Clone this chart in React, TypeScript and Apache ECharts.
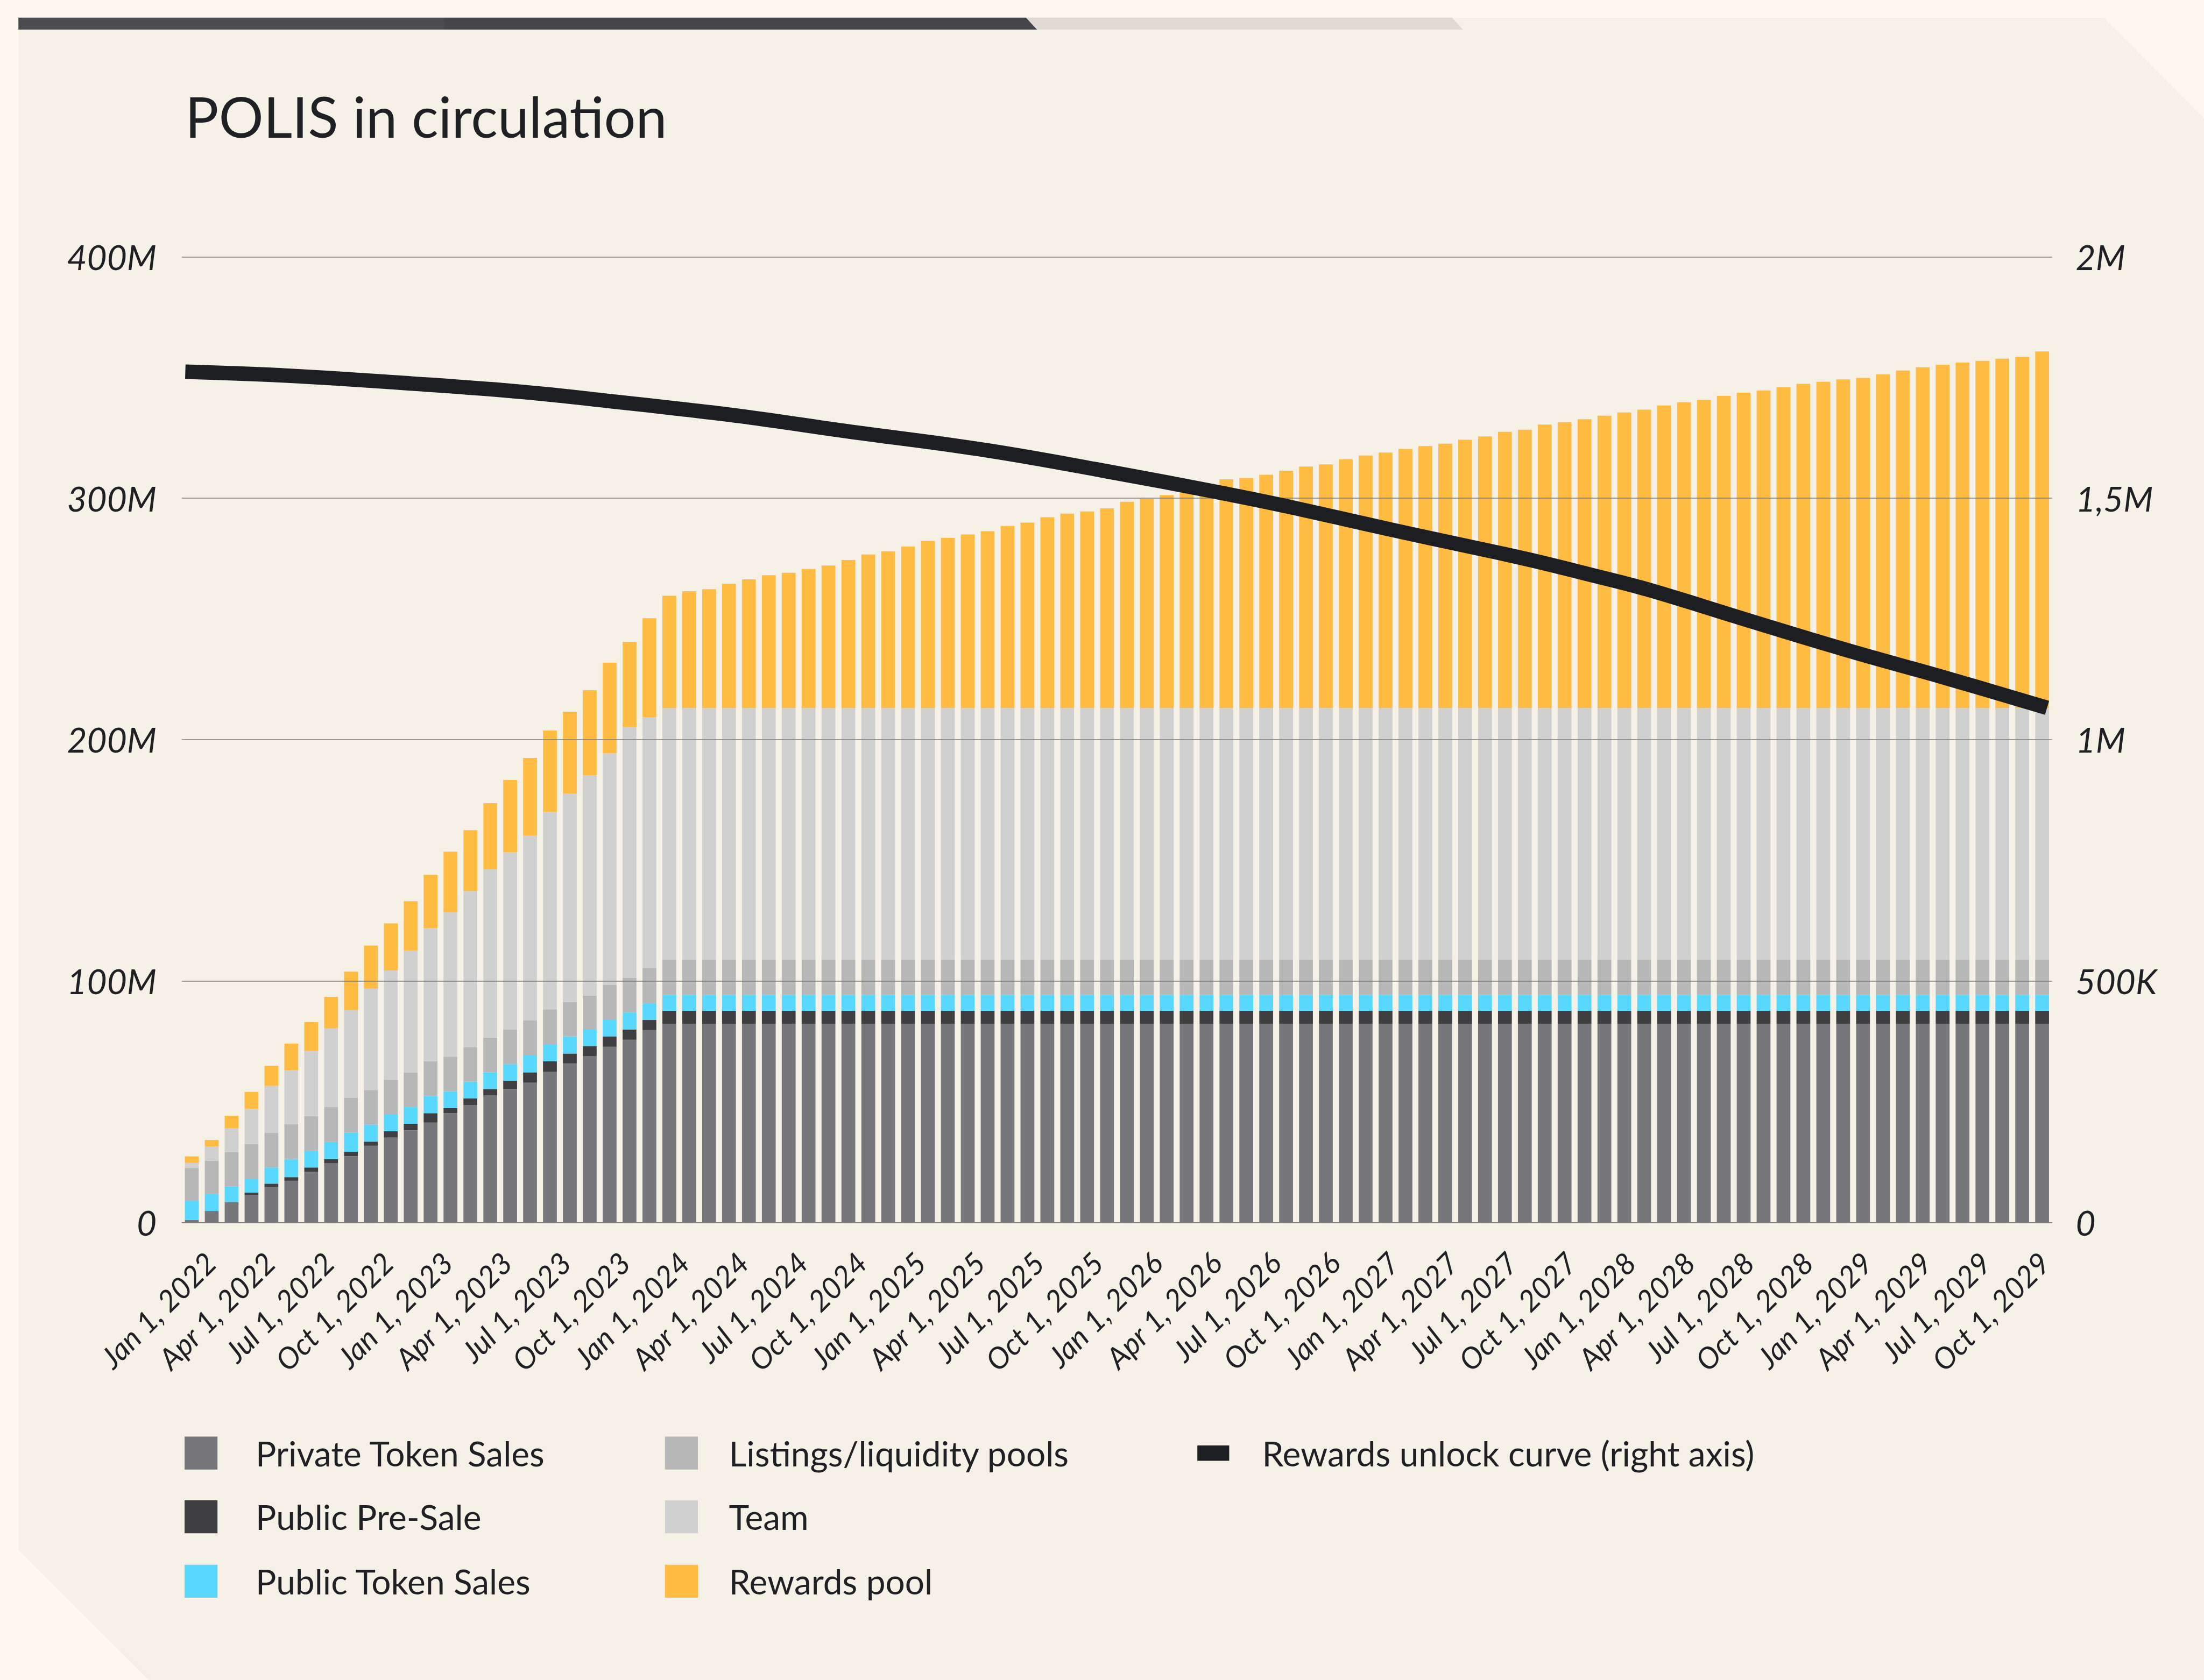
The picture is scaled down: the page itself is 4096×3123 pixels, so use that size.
import React, { useEffect, useRef } from 'react';
import * as echarts from 'echarts';

// ---------- data ----------
const MONTHS = ['Jan', 'Feb', 'Mar', 'Apr', 'May', 'Jun', 'Jul', 'Aug', 'Sep', 'Oct', 'Nov', 'Dec'];
const YEARS = [2022, 2023, 2024, 2025, 2026, 2027, 2028, 2029];
const LAST_MONTH_INDEX_2029 = 9; // Oct 2029 is the last bar
const LABEL_EVERY = 3; // a tick label every quarter

const categories: string[] = [];
YEARS.forEach((y) => {
  MONTHS.forEach((m, mi) => {
    if (y === 2029 && mi > LAST_MONTH_INDEX_2029) return;
    categories.push(`${m} 1, ${y}`);
  });
});

// values in millions of POLIS (stack segments)
const privateTokenSales = [
  1.1, 4.8, 8.5, 11.3, 14.7, 17.3, 21.0, 24.5, 27.5, 31.8, 35.2, 38.2,
  41.4, 45.3, 48.7, 52.7, 55.3, 57.9, 62.5, 65.9, 68.9, 72.8, 75.7, 79.7,
  82.2, 82.2, 82.2, 82.2, 82.2, 82.2, 82.2, 82.2, 82.2, 82.2, 82.2, 82.2,
  82.2, 82.2, 82.2, 82.2, 82.2, 82.2, 82.2, 82.2, 82.2, 82.2, 82.2, 82.2,
  82.2, 82.2, 82.2, 82.2, 82.2, 82.2, 82.2, 82.2, 82.2, 82.2, 82.2, 82.2,
  82.2, 82.2, 82.2, 82.2, 82.2, 82.2, 82.2, 82.2, 82.2, 82.2, 82.2, 82.2,
  82.2, 82.2, 82.2, 82.2, 82.2, 82.2, 82.2, 82.2, 82.2, 82.2, 82.2, 82.2,
  82.2, 82.2, 82.2, 82.2, 82.2, 82.2, 82.2, 82.2, 82.2, 82.2,
];
const publicPreSale = [
  0, 0, 0, 1.1, 1.4, 1.5, 1.8, 1.8, 1.8, 1.7, 2.6, 2.7,
  3.9, 2.1, 2.7, 2.6, 3.4, 4.3, 4.3, 4.1, 4.2, 4.3, 4.2, 4.2,
  5.5, 5.5, 5.5, 5.5, 5.5, 5.5, 5.5, 5.5, 5.5, 5.5, 5.5, 5.5,
  5.5, 5.5, 5.5, 5.5, 5.5, 5.5, 5.5, 5.5, 5.5, 5.5, 5.5, 5.5,
  5.5, 5.5, 5.5, 5.5, 5.5, 5.5, 5.5, 5.5, 5.5, 5.5, 5.5, 5.5,
  5.5, 5.5, 5.5, 5.5, 5.5, 5.5, 5.5, 5.5, 5.5, 5.5, 5.5, 5.5,
  5.5, 5.5, 5.5, 5.5, 5.5, 5.5, 5.5, 5.5, 5.5, 5.5, 5.5, 5.5,
  5.5, 5.5, 5.5, 5.5, 5.5, 5.5, 5.5, 5.5, 5.5, 5.5,
];
const publicTokenSales = [
  7.9, 7.0, 6.4, 5.8, 6.7, 7.5, 6.8, 7.1, 8.0, 7.1, 6.9, 6.9,
  7.0, 7.0, 7.0, 6.9, 6.9, 7.0, 7.1, 7.1, 6.8, 6.8, 7.1, 7.0,
  6.5, 6.5, 6.5, 6.5, 6.5, 6.5, 6.5, 6.5, 6.5, 6.5, 6.5, 6.5,
  6.5, 6.5, 6.5, 6.5, 6.5, 6.5, 6.5, 6.5, 6.5, 6.5, 6.5, 6.5,
  6.5, 6.5, 6.5, 6.5, 6.5, 6.5, 6.5, 6.5, 6.5, 6.5, 6.5, 6.5,
  6.5, 6.5, 6.5, 6.5, 6.5, 6.5, 6.5, 6.5, 6.5, 6.5, 6.5, 6.5,
  6.5, 6.5, 6.5, 6.5, 6.5, 6.5, 6.5, 6.5, 6.5, 6.5, 6.5, 6.5,
  6.5, 6.5, 6.5, 6.5, 6.5, 6.5, 6.5, 6.5, 6.5, 6.5,
];
const listingsPools = [
  13.6, 13.8, 14.2, 14.3, 14.3, 14.4, 14.5, 14.4, 14.3, 14.3, 14.4, 14.4,
  14.5, 14.3, 14.3, 14.4, 14.4, 14.5, 14.4, 14.2, 14.1, 14.5, 14.3, 14.4,
  14.8, 14.8, 14.8, 14.8, 14.8, 14.8, 14.8, 14.8, 14.8, 14.8, 14.8, 14.8,
  14.8, 14.8, 14.8, 14.8, 14.8, 14.8, 14.8, 14.8, 14.8, 14.8, 14.8, 14.8,
  14.8, 14.8, 14.8, 14.8, 14.8, 14.8, 14.8, 14.8, 14.8, 14.8, 14.8, 14.8,
  14.8, 14.8, 14.8, 14.8, 14.8, 14.8, 14.8, 14.8, 14.8, 14.8, 14.8, 14.8,
  14.8, 14.8, 14.8, 14.8, 14.8, 14.8, 14.8, 14.8, 14.8, 14.8, 14.8, 14.8,
  14.8, 14.8, 14.8, 14.8, 14.8, 14.8, 14.8, 14.8, 14.8, 14.8,
];
const team = [
  2.1, 5.9, 10.0, 14.6, 19.5, 22.5, 27.0, 32.6, 36.4, 42.0, 45.3, 50.4,
  55.2, 59.8, 64.6, 69.7, 73.3, 76.5, 81.7, 86.3, 91.3, 95.9, 104.0, 104.0,
  104.1, 104.1, 104.1, 104.1, 104.1, 104.1, 104.1, 104.1, 104.1, 104.1, 104.1, 104.1,
  104.1, 104.1, 104.1, 104.1, 104.1, 104.1, 104.1, 104.1, 104.1, 104.1, 104.1, 104.1,
  104.1, 104.1, 104.1, 104.1, 104.1, 104.1, 104.1, 104.1, 104.1, 104.1, 104.1, 104.1,
  104.1, 104.1, 104.1, 104.1, 104.1, 104.1, 104.1, 104.1, 104.1, 104.1, 104.1, 104.1,
  104.1, 104.1, 104.1, 104.1, 104.1, 104.1, 104.1, 104.1, 104.1, 104.1, 104.1, 104.1,
  104.1, 104.1, 104.1, 104.1, 104.1, 104.1, 104.1, 104.1, 104.1, 104.1,
];
const rewardsPool = [
  2.7, 2.7, 5.1, 7.0, 8.3, 10.9, 11.9, 13.1, 15.9, 17.8, 19.5, 20.5,
  22.0, 25.1, 25.2, 27.4, 30.0, 32.2, 33.8, 34.0, 35.2, 37.6, 35.2, 41.0,
  46.5, 48.4, 49.2, 51.5, 53.3, 55.0, 56.0, 57.6, 59.0, 61.3, 63.6, 64.9,
  66.9, 69.2, 70.5, 71.9, 73.2, 75.4, 76.8, 79.0, 80.5, 81.4, 82.7, 85.4,
  86.7, 88.2, 89.9, 92.4, 94.7, 95.3, 96.6, 98.3, 100.0, 100.9, 103.0, 104.6,
  105.8, 107.3, 108.5, 109.5, 111.1, 112.5, 114.4, 115.3, 117.4, 118.4, 119.6, 121.1,
  122.4, 123.6, 125.3, 126.6, 127.6, 129.3, 130.6, 131.5, 132.8, 134.3, 135.1, 136.1,
  136.7, 138.2, 139.8, 141.1, 142.1, 143.1, 143.8, 144.7, 145.4, 147.7,
];

// rewards unlock curve (right axis, POLIS), read at the months where it was measured
const unlockCurveReadings: [number, number][] = [
  [0, 1762000], [5, 1754000], [12, 1735500], [17, 1719500], [21, 1702000],
  [25, 1683500], [28, 1668500], [33, 1639000], [40, 1599500], [46, 1556000],
  [52, 1509000], [55, 1483500], [60, 1437000], [63, 1410000], [67, 1374000],
  [70, 1343500], [73, 1311500], [78, 1248000], [83, 1185500], [88, 1127000],
  [93, 1066000],
];

const leftTicks = [0, 100, 200, 300, 400];
const rightTicks = [0, 500000, 1000000, 1500000, 2000000];

// ---------- styling ----------
const FONT = 'Lato, "Noto Sans", sans-serif';
const INK = '#1f2024';
const C = {
  priv: '#77767b',
  pre: '#3f3f41',
  pub: '#59d8ff',
  list: '#b7b7b7',
  team: '#d0d0d0',
  rew: '#ffbb42',
  line: '#1d1e22',
  grid: '#7c7c7c',
};
const PLOT_TOP = 477.3;
const PLOT_H = 1795.3;

const unlockCurve: (number | null)[] = categories.map(() => null);
unlockCurveReadings.forEach(([i, v]) => {
  unlockCurve[i] = v;
});

const barSeries = [
  { name: 'Private Token Sales', data: privateTokenSales, color: C.priv },
  { name: 'Public Pre-Sale', data: publicPreSale, color: C.pre },
  { name: 'Public Token Sales', data: publicTokenSales, color: C.pub },
  { name: 'Listings/liquidity pools', data: listingsPools, color: C.list },
  { name: 'Team', data: team, color: C.team },
  { name: 'Rewards pool', data: rewardsPool, color: C.rew },
];

const legendCols = [
  { x: 343, textX: 475, items: [0, 1, 2] },
  { x: 1235.8, textX: 1354.5, items: [3, 4, 5] },
];
const legendRows = [2701.2, 2819.6, 2939.4];

function buildGraphic() {
  const els: any[] = [];
  // panel
  els.push({
    type: 'polygon',
    z: -10,
    silent: true,
    shape: {
      points: [
        [34.2, 32.8], [3910, 32.8], [4096, 218.9], [4096, 3123], [276, 3123], [34.2, 2881],
      ],
    },
    style: { fill: '#f5f1e7' },
  });
  // top bar
  els.push({ type: 'rect', z: -5, silent: true, shape: { x: 34.2, y: 32.8, width: 792, height: 22.3 }, style: { fill: '#4c4b50' } });
  els.push({
    type: 'polygon', z: -5, silent: true,
    shape: { points: [[825.8, 32.8], [1906.8, 32.8], [1927.5, 55.1], [825.8, 55.1]] },
    style: { fill: '#46454b' },
  });
  els.push({
    type: 'polygon', z: -5, silent: true,
    shape: { points: [[1906.8, 32.8], [2698.3, 32.8], [2719, 55.1], [1927.5, 55.1]] },
    style: { fill: '#dfdbd2' },
  });
  // title
  els.push({
    type: 'text', z: 10, silent: true,
    style: {
      x: 344, y: 215, text: 'POLIS in circulation', fill: INK,
      fontFamily: FONT, fontSize: 104,
      align: 'left', verticalAlign: 'middle',
    },
  });
  // legend
  legendCols.forEach((col) => {
    col.items.forEach((si, r) => {
      const cy = legendRows[r];
      els.push({
        type: 'rect', z: 10, silent: true,
        shape: { x: col.x, y: cy - 30.6, width: 61.2, height: 61.2 },
        style: { fill: barSeries[si].color },
      });
      els.push({
        type: 'text', z: 10, silent: true,
        style: {
          x: col.textX, y: cy, text: barSeries[si].name, fill: INK,
          fontFamily: FONT, fontSize: 64, align: 'left', verticalAlign: 'middle',
        },
      });
    });
  });
  els.push({
    type: 'rect', z: 10, silent: true,
    shape: { x: 2225.2, y: legendRows[0] - 14.3, width: 59.2, height: 28.5 },
    style: { fill: C.line },
  });
  els.push({
    type: 'text', z: 10, silent: true,
    style: {
      x: 2345.5, y: legendRows[0], text: 'Rewards unlock curve (right axis)', fill: INK,
      fontFamily: FONT, fontSize: 64, align: 'left', verticalAlign: 'middle',
    },
  });
  return els;
}

const fmtLeft = (v: number) => (v === 0 ? '0' : `${v}M`);
const fmtRight = (v: number) => {
  if (v === 0) return '0';
  if (v >= 1000000) return `${String(v / 1000000).replace('.', ',')}M`;
  return `${v / 1000}K`;
};

const hiddenAxis = {
  show: true,
  axisLine: { show: false },
  axisTick: { show: false },
  axisLabel: { show: false },
  splitLine: { show: false },
};

const option: any = {
  animation: false,
  backgroundColor: 'transparent',
  textStyle: { fontFamily: FONT },
  graphic: { elements: buildGraphic() },
  grid: [
    // bars
    { left: 338, top: PLOT_TOP, width: 3475.6, height: PLOT_H, containLabel: false },
    // quarter date labels
    { left: 355.5, top: PLOT_TOP, width: 3408.1, height: PLOT_H, containLabel: false },
    // unlock curve
    { left: 344.4, top: PLOT_TOP, width: 3459.9, height: PLOT_H, containLabel: false },
  ],
  xAxis: [
    {
      type: 'category',
      gridIndex: 0,
      data: categories,
      boundaryGap: true,
      z: 3,
      axisTick: { show: false },
      axisLine: { show: true, lineStyle: { color: C.grid, width: 1.6 } },
      splitLine: { show: false },
      axisLabel: { show: false },
    },
    {
      type: 'category',
      gridIndex: 1,
      data: categories,
      boundaryGap: false,
      z: 3,
      axisTick: { show: false },
      axisLine: { show: false },
      splitLine: { show: false },
      axisLabel: {
        interval: 0,
        formatter: (v: string, i: number) => (i % LABEL_EVERY === 0 ? v : ''),
        rotate: 45,
        fontSize: 55,
        fontStyle: 'italic',
        fontFamily: FONT,
        color: INK,
        margin: 29,
        align: 'right',
        verticalAlign: 'top',
        lineHeight: 101,
        hideOverlap: false,
      },
    },
    {
      type: 'category',
      gridIndex: 2,
      data: categories,
      boundaryGap: false,
      ...hiddenAxis,
    },
  ],
  yAxis: [
    {
      type: 'value',
      gridIndex: 0,
      min: leftTicks[0],
      max: leftTicks[leftTicks.length - 1],
      interval: leftTicks[1] - leftTicks[0],
      z: 3,
      axisLine: { show: false },
      axisTick: { show: false },
      splitLine: { show: true, lineStyle: { color: C.grid, width: 1.6 } },
      axisLabel: {
        formatter: fmtLeft,
        fontSize: 64,
        fontStyle: 'italic',
        fontFamily: FONT,
        color: INK,
        margin: 47,
      },
    },
    {
      type: 'value',
      gridIndex: 1,
      min: 0,
      max: 1,
      ...hiddenAxis,
    },
    {
      type: 'value',
      gridIndex: 2,
      position: 'right',
      min: rightTicks[0],
      max: rightTicks[rightTicks.length - 1],
      interval: rightTicks[1] - rightTicks[0],
      z: 3,
      axisLine: { show: false },
      axisTick: { show: false },
      splitLine: { show: false },
      axisLabel: {
        formatter: fmtRight,
        fontSize: 64,
        fontStyle: 'italic',
        fontFamily: FONT,
        color: INK,
        margin: 53.3,
      },
    },
  ],
  series: [
    ...barSeries.map((s) => ({
      name: s.name,
      type: 'bar',
      xAxisIndex: 0,
      yAxisIndex: 0,
      stack: 'circulation',
      data: s.data,
      barWidth: 25.7,
      z: 2,
      itemStyle: { color: s.color },
      emphasis: { disabled: true },
    })),
    {
      name: 'Rewards unlock curve (right axis)',
      type: 'line',
      xAxisIndex: 2,
      yAxisIndex: 2,
      data: unlockCurve,
      connectNulls: true,
      smooth: 0.4,
      showSymbol: false,
      symbol: 'none',
      z: 5,
      itemStyle: { color: C.line },
      lineStyle: { color: C.line, width: 27, cap: 'butt' },
      emphasis: { disabled: true },
    },
  ],
};

export default function App() {
  const ref = useRef<HTMLDivElement>(null);
  useEffect(() => {
    if (!ref.current) return;
    const chart = echarts.init(ref.current, null, { renderer: 'svg', width: 4096, height: 3123 });
    chart.setOption(option);
    return () => chart.dispose();
  }, []);
  return (
    <div
      ref={ref}
      style={{ position: 'absolute', left: 0, top: 0, width: 4096, height: 3123, background: '#fdf9ee' }}
    />
  );
}
